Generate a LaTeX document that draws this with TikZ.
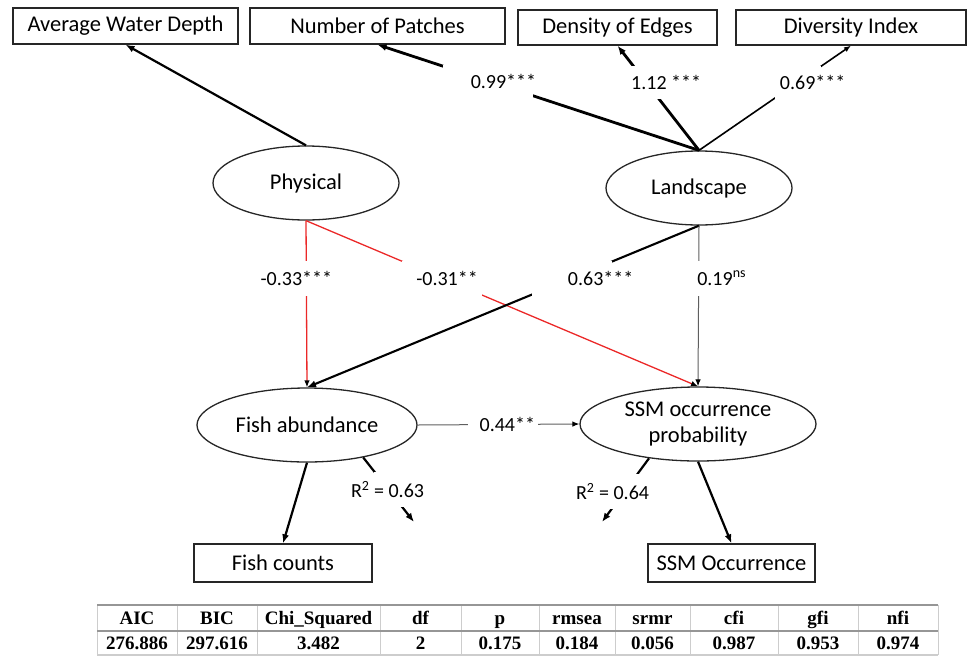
\documentclass[tikz,border=0pt]{standalone}
\usepackage{fontspec}
\setmainfont{Carlito}
\newfontfamily\tabfamily{Liberation Serif}
\usetikzlibrary{arrows.meta,shapes.geometric,calc}
\newcommand\bxfont{\fontsize{22.5}{26}\selectfont}
\newcommand\lbfont{\fontsize{20}{24}\selectfont}
\newcommand\tbfont{\tabfamily\bfseries\fontsize{19}{22}\selectfont}
\definecolor{redln}{RGB}{235,40,40}
\definecolor{grayln}{RGB}{95,95,95}
\definecolor{rulegray}{RGB}{150,150,150}
\definecolor{sepgray}{RGB}{205,205,205}
\begin{document}
\begin{tikzpicture}[x=1pt,y=-1pt,
  obs/.style={draw=black!85, line width=1.3pt, rectangle, inner sep=0pt, font=\bxfont},
  lat/.style={draw=black!85, line width=1.3pt, ellipse, inner sep=0pt, font=\bxfont, align=center},
  tipA/.style={-{Latex[length=9pt,width=7pt]}},
  tipB/.style={-{Latex[length=7pt,width=5.5pt,color=black]}},
  gapbox/.style 2 args={fill=white, inner sep=0pt, minimum width=#1, minimum height=#2},
  lbl/.style={font=\lbfont, inner sep=0pt},
  tcell/.style={font=\tbfont, inner sep=0pt, anchor=base},
]
\useasboundingbox (0,0) rectangle (973,656);

% observed boxes
\node[obs, minimum width=225pt, minimum height=36pt] (awd) at (125.5,26) {Average Water Depth};
\node[obs, minimum width=255pt, minimum height=36pt] (nop) at (377.5,26) {Number of Patches};
\node[obs, minimum width=199pt, minimum height=35pt] (doe) at (617.5,27.5) {Density of Edges};
\node[obs, minimum width=230pt, minimum height=35pt] (div) at (851,27.5) {Diversity Index};
\node[obs, minimum width=178pt, minimum height=38pt] (fc) at (283,563) {Fish counts};
\node[obs, minimum width=167pt, minimum height=38pt] (so) at (731.5,563) {SSM Occurrence};

% latent ellipses
\node[lat, minimum width=186pt, minimum height=74pt] (phys) at (306,183) {Physical};
\node[lat, minimum width=186pt, minimum height=74pt] (land) at (699,188) {Landscape};
\node[lat, minimum width=220pt, minimum height=74pt] (fish) at (307,425) {Fish abundance};
\node[lat, minimum width=236pt, minimum height=74pt] (ssm) at (698,424) {SSM occurrence\\probability};

\coordinate (r1) at (414,522);
\coordinate (r2) at (602,522);

% measurement paths
\draw[tipA, line width=2.2pt] (phys.north) -- (awd.south);
\draw[tipA, line width=2.8pt] (land.north) -- node[gapbox={90pt}{33pt}, pos=0.655] (c1) {} (nop.south);
\draw[tipA, line width=2.8pt] (land.north) -- node[gapbox={30pt}{33pt}, pos=0.649] (c2) {} (doe.south);
\draw[tipB, line width=1.6pt] (land.north) -- node[gapbox={46pt}{33pt}, pos=0.649] (c3) {} (div.south);

% structural paths
\draw[tipB, redln, line width=1.3pt] (phys.south) -- node[gapbox={10pt}{35pt}, pos=0.345] (c4) {} (fish.north);
\draw[tipB, redln, line width=1.3pt] (phys.south) -- node[gapbox={80pt}{35pt}, pos=0.347] (c5) {} (ssm.north);
\draw[tipA, line width=2.1pt] (land.south) -- node[gapbox={80pt}{35pt}, pos=0.325] (c6) {} (fish.north);
\draw[tipB, grayln, line width=1pt] (land.south) -- node[gapbox={10pt}{35pt}, pos=0.327] (c7) {} (ssm.north);
\draw[tipB, grayln, line width=1pt] (fish.east) -- node[gapbox={70pt}{20pt}, pos=0.53] (c8) {} (ssm.west);

% indicators of endogenous latents
\draw[tipA, line width=2.2pt] (fish.south) -- (fc.north);
\draw[tipA, line width=2.2pt] (ssm.south) -- (so.north);

% residual arrows
\draw[tipA, line width=2.2pt] (fish.-30) -- node[gapbox={30pt}{35pt}, pos=0.5] (c9) {} (r1);
\draw[tipA, line width=2.2pt] (ssm.215) -- node[gapbox={30pt}{35pt}, pos=0.52] (c10) {} (r2);

% labels
\node[lbl] (l1) at ([xshift=15pt]c1.center) {0.99***};
\node[lbl] (l2) at ([xshift=20pt]c2.center) {1.12 ***};
\node[lbl] (l3) at ([xshift=15pt]c3.center) {0.69***};
\node[lbl] (l4) at ([xshift=-10pt]c4.center) {-0.33***};
\node[lbl] (l5) at ([xshift=5pt]c5.center) {-0.31**};
\node[lbl] (l6) at ([xshift=29pt]c6.center) {0.63***};
\node[lbl] (l7) at ([xshift=23pt]c7.center) {0.19\textsuperscript{ns}};
\node[lbl] (l8) at ([xshift=4pt]c8.center) {0.44**};
\node[lbl] (l9) at ([xshift=-1pt]c9.center) {R\textsuperscript{2} = 0.63};
\node[lbl] (l10) at ([xshift=-12pt]c10.center) {R\textsuperscript{2} = 0.64};

% fit table
\foreach \xx in {97,177,257,380,461,539,615,690,778,858,938}
  \draw[sepgray, line width=1pt] (\xx,605) -- (\xx,655);
\draw[rulegray, line width=2pt] (97,605) -- (938,605);
\draw[rulegray, line width=2.5pt] (97,631) -- (938,631);
\draw[sepgray, line width=1.2pt] (97,655) -- (938,655);
\foreach \xx/\hh/\dd [count=\i] in {137/AIC/276.886, 217/BIC/297.616, 318.5/{Chi\_Squared}/3.482, 420.5/df/2, 500/p/0.175, 577/rmsea/0.184, 652.5/srmr/0.056, 734/cfi/0.987, 818/gfi/0.953, 898/nfi/0.974} {
  \node[tcell] (h\i) at (\xx,624) {\hh};
  \node[tcell] (d\i) at (\xx,649.5) {\dd};
}
\end{tikzpicture}
\end{document}
